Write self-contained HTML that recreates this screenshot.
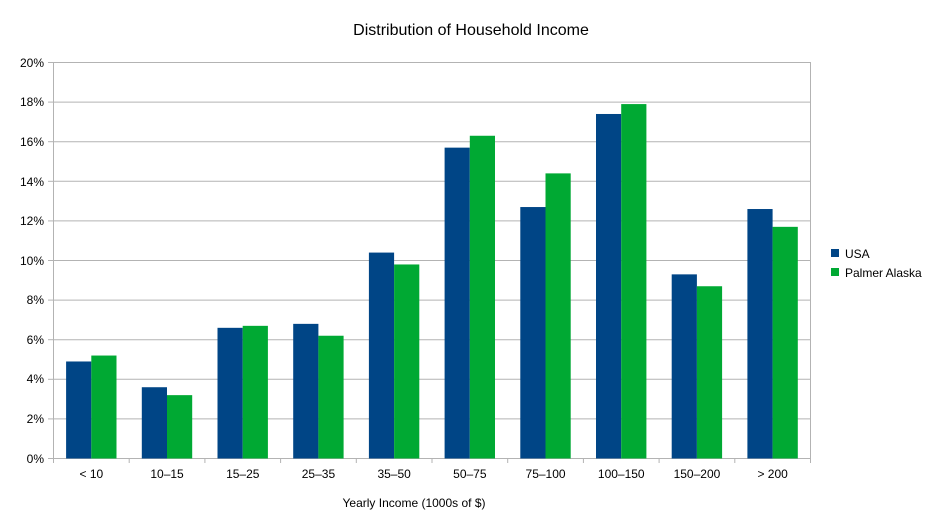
<!DOCTYPE html>
<html><head><meta charset="utf-8"><style>body{margin:0;background:#fff}svg{display:block}text{font-family:"Liberation Sans",sans-serif;fill:#000}</style></head><body>
<svg width="942" height="531" xmlns="http://www.w3.org/2000/svg">
<rect width="942" height="531" fill="#fff"/>
<text x="471" y="35" font-size="16" text-anchor="middle">Distribution of Household Income</text>
<g stroke="#b3b3b3" stroke-width="1">
<line x1="53" y1="62.5" x2="810" y2="62.5"/><line x1="53" y1="102.1" x2="810" y2="102.1"/><line x1="53" y1="141.7" x2="810" y2="141.7"/><line x1="53" y1="181.3" x2="810" y2="181.3"/><line x1="53" y1="220.9" x2="810" y2="220.9"/><line x1="53" y1="260.5" x2="810" y2="260.5"/><line x1="53" y1="300.1" x2="810" y2="300.1"/><line x1="53" y1="339.7" x2="810" y2="339.7"/><line x1="53" y1="379.3" x2="810" y2="379.3"/><line x1="53" y1="418.9" x2="810" y2="418.9"/><line x1="53" y1="458.5" x2="810" y2="458.5"/>
<line x1="53.5" y1="62" x2="53.5" y2="463"/><line x1="810.5" y1="62" x2="810.5" y2="463"/>
<line x1="129.2" y1="458" x2="129.2" y2="463"/><line x1="204.9" y1="458" x2="204.9" y2="463"/><line x1="280.6" y1="458" x2="280.6" y2="463"/><line x1="356.3" y1="458" x2="356.3" y2="463"/><line x1="432" y1="458" x2="432" y2="463"/><line x1="507.7" y1="458" x2="507.7" y2="463"/><line x1="583.4" y1="458" x2="583.4" y2="463"/><line x1="659.1" y1="458" x2="659.1" y2="463"/><line x1="734.8" y1="458" x2="734.8" y2="463"/>
<line x1="48" y1="62.5" x2="53" y2="62.5"/><line x1="48" y1="102.1" x2="53" y2="102.1"/><line x1="48" y1="141.7" x2="53" y2="141.7"/><line x1="48" y1="181.3" x2="53" y2="181.3"/><line x1="48" y1="220.9" x2="53" y2="220.9"/><line x1="48" y1="260.5" x2="53" y2="260.5"/><line x1="48" y1="300.1" x2="53" y2="300.1"/><line x1="48" y1="339.7" x2="53" y2="339.7"/><line x1="48" y1="379.3" x2="53" y2="379.3"/><line x1="48" y1="418.9" x2="53" y2="418.9"/><line x1="48" y1="458.5" x2="53" y2="458.5"/>
</g>
<g font-size="12" text-anchor="end">
<text x="44" y="67">20%</text><text x="44" y="106">18%</text><text x="44" y="146">16%</text><text x="44" y="186">14%</text><text x="44" y="225">12%</text><text x="44" y="265">10%</text><text x="44" y="304">8%</text><text x="44" y="344">6%</text><text x="44" y="383">4%</text><text x="44" y="423">2%</text><text x="44" y="463">0%</text>
</g>
<g fill="#004586">
<rect x="66.1" y="361.48" width="25.2" height="97.02"/>
<rect x="141.8" y="387.22" width="25.2" height="71.28"/>
<rect x="217.5" y="327.82" width="25.2" height="130.68"/>
<rect x="293.2" y="323.86" width="25.2" height="134.64"/>
<rect x="368.9" y="252.58" width="25.2" height="205.92"/>
<rect x="444.6" y="147.64" width="25.2" height="310.86"/>
<rect x="520.3" y="207.04" width="25.2" height="251.46"/>
<rect x="596.0" y="113.98" width="25.2" height="344.52"/>
<rect x="671.7" y="274.36" width="25.2" height="184.14"/>
<rect x="747.4" y="209.02" width="25.2" height="249.48"/>
</g>
<g fill="#00a933">
<rect x="91.3" y="355.54" width="25.2" height="102.96"/>
<rect x="167.0" y="395.14" width="25.2" height="63.36"/>
<rect x="242.7" y="325.84" width="25.2" height="132.66"/>
<rect x="318.4" y="335.74" width="25.2" height="122.76"/>
<rect x="394.1" y="264.46" width="25.2" height="194.04"/>
<rect x="469.8" y="135.76" width="25.2" height="322.74"/>
<rect x="545.5" y="173.38" width="25.2" height="285.12"/>
<rect x="621.2" y="104.08" width="25.2" height="354.42"/>
<rect x="696.9" y="286.24" width="25.2" height="172.26"/>
<rect x="772.6" y="226.84" width="25.2" height="231.66"/>
</g>
<g font-size="12" text-anchor="middle">
<text x="91.35" y="478">&lt; 10</text>
<text x="167.05" y="478">10–15</text>
<text x="242.75" y="478">15–25</text>
<text x="318.45" y="478">25–35</text>
<text x="394.15" y="478">35–50</text>
<text x="469.85" y="478">50–75</text>
<text x="545.55" y="478">75–100</text>
<text x="621.25" y="478">100–150</text>
<text x="696.95" y="478">150–200</text>
<text x="772.65" y="478">&gt; 200</text>
</g>
<text x="414" y="507" font-size="12" text-anchor="middle">Yearly Income (1000s of $)</text>
<rect x="831" y="249" width="8" height="8" fill="#004586"/><text x="845" y="258" font-size="12">USA</text>
<rect x="831" y="268" width="8" height="8" fill="#00a933"/><text x="845" y="277" font-size="12">Palmer Alaska</text>
</svg>
</body></html>
